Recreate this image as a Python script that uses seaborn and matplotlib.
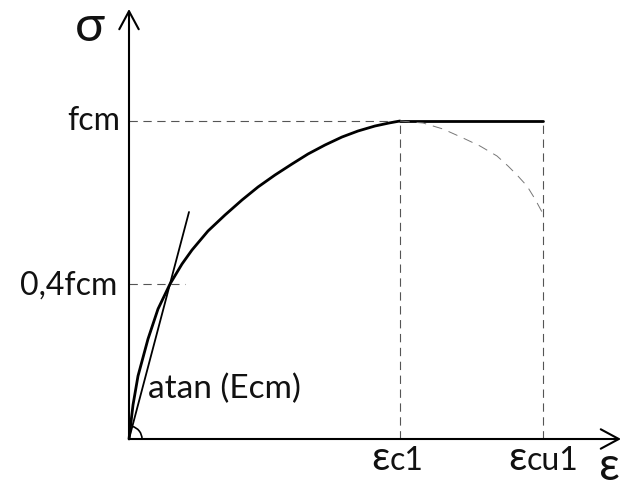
import matplotlib
matplotlib.use("Agg")
import matplotlib.pyplot as plt
from matplotlib.patches import Arc
import seaborn as sns
import pandas as pd

sns.set_theme(style="white")
plt.rcParams["font.family"] = ["Lato", "DejaVu Sans"]
plt.rcParams["lines.scale_dashes"] = False

# Characteristic points of the diagram (sketch units)
eps_c1 = 271
eps_cu1 = 414
fcm = 318
sig_04 = 155          # level marked as 0,4fcm
eps_04_guide = 56     # length of the 0,4fcm guide line

# Ascending branch sigma(eps) up to the peak
curve_eps = [0, 4, 9, 19, 29, 41, 53, 63, 79, 96, 113, 129, 146, 163, 179, 196, 213, 229, 246, 260, 271]
curve_sig = [0, 34, 63, 100, 130, 155, 175, 189, 208, 224, 239, 252, 264, 275, 285, 294, 302, 308, 313, 316, 318]

# Secant through the 0,4fcm point (modulus Ecm)
secant_eps = [0, 60]
secant_sig = [0, 227]

# Descending branch (dashed) and the plateau
desc_eps = [271, 294, 314, 334, 351, 368, 379, 388, 398, 406, 413]
desc_sig = [318, 316, 310, 301, 293, 283, 273, 264, 253, 240, 227]
plateau_eps = [eps_c1, eps_cu1]
plateau_sig = [fcm, fcm]

# Axis extents
x_axis_end = 492
y_axis_end = 430

# Labels
y_tick_labels = ["fcm", "0,4fcm"]
x_tick_heads = ["\u03b5", "\u03b5"]
x_tick_tails = ["c1", "cu1"]

fig = plt.figure(figsize=(6.22, 4.89), dpi=100)
ax = fig.add_axes([0, 0, 1, 1])
ax.set_xlim(-129, 493)
ax.set_ylim(-49, 440)
ax.axis("off")

dash = (0, (6, 4))
gray = "#555555"
ink = "#111111"

# Guide lines
ax.plot([0, eps_c1], [fcm, fcm], color=gray, lw=0.8, ls=dash)
ax.plot([eps_c1, eps_c1], [0, fcm], color=gray, lw=0.8, ls=dash)
ax.plot([eps_cu1, eps_cu1], [0, fcm], color=gray, lw=0.8, ls=dash)
ax.plot([0, eps_04_guide], [sig_04, sig_04], color=gray, lw=0.8, ls=dash)

# Curves
sns.lineplot(data=pd.DataFrame({"eps": curve_eps, "sig": curve_sig}), x="eps", y="sig",
             sort=False, color="black", lw=2.0, ax=ax, estimator=None)
sns.lineplot(data=pd.DataFrame({"eps": secant_eps, "sig": secant_sig}), x="eps", y="sig",
             sort=False, color="black", lw=1.3, ax=ax, estimator=None)
sns.lineplot(data=pd.DataFrame({"eps": plateau_eps, "sig": plateau_sig}), x="eps", y="sig",
             sort=False, color="black", lw=2.0, ax=ax, estimator=None)
ax.plot(desc_eps, desc_sig, color="#777777", lw=0.7, ls=(0, (7, 5)))

# Axes with open arrow heads
arrow = dict(arrowstyle="->,head_length=0.65,head_width=0.35", lw=1.5, color="black",
             shrinkA=0, shrinkB=0, mutation_scale=20)
ax.annotate("", xy=(0, y_axis_end), xytext=(0, 0), arrowprops=arrow)
ax.annotate("", xy=(x_axis_end, 0), xytext=(0, 0), arrowprops=arrow)

# Angle mark at the origin
ax.add_patch(Arc((0, 0), 26, 26, theta1=0, theta2=76, color="black", lw=1.2))

# Axis symbols and level labels
ax.text(-39, 399, "\u03c3", fontsize=36, ha="center", va="baseline", color=ink)
ax.text(491, -48, "\u03b5", fontsize=33, ha="right", va="bottom", color=ink)
ax.text(-9, fcm - 8, y_tick_labels[0], fontsize=23, ha="right", va="baseline", color=ink)
ax.text(-12, sig_04 - 10, y_tick_labels[1], fontsize=23, ha="right", va="baseline", color=ink)
ax.text(19, 42, "atan (Ecm)", fontsize=24, ha="left", va="baseline", color=ink)

# Strain labels: a larger epsilon followed by its index, centred on the guide line
renderer = fig.canvas.get_renderer()
for xc, head, tail in zip([eps_c1 - 3, eps_cu1], x_tick_heads, x_tick_tails):
    t1 = ax.text(0, -30, head, fontsize=29, ha="left", va="baseline", color=ink)
    t2 = ax.text(0, -30, tail, fontsize=23, ha="left", va="baseline", color=ink)
    w1 = t1.get_window_extent(renderer).width
    w2 = t2.get_window_extent(renderer).width
    x0 = xc - (w1 + w2) / 2
    t1.set_x(x0)
    t2.set_x(x0 + w1)

fig.savefig("out.png", dpi=100)
